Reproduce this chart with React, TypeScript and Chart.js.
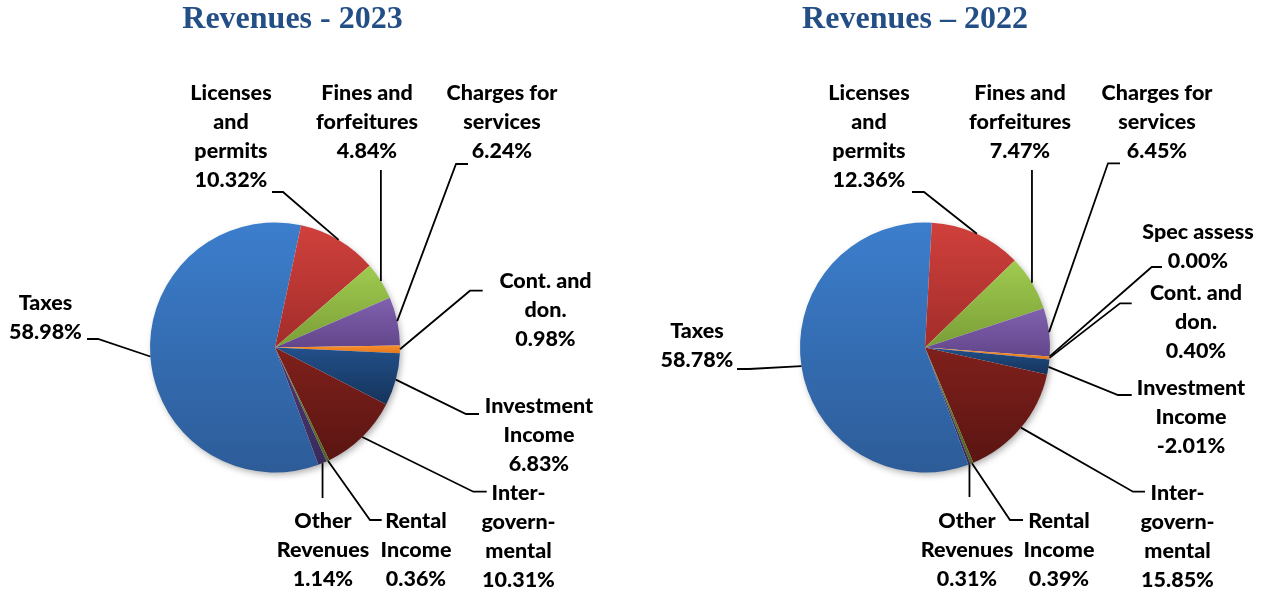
import React, { useEffect, useRef } from 'react';
import { Chart, registerables } from 'chart.js';

Chart.register(...registerables);

// ---------- data ----------
const categories = [
  'Taxes',
  'Licenses and permits',
  'Fines and forfeitures',
  'Charges for services',
  'Spec assess',
  'Cont. and don.',
  'Investment Income',
  'Inter-governmental',
  'Rental Income',
  'Other Revenues',
];
const categoryLines = [
  ['Taxes'],
  ['Licenses', 'and', 'permits'],
  ['Fines and', 'forfeitures'],
  ['Charges for', 'services'],
  ['Spec assess'],
  ['Cont. and', 'don.'],
  ['Investment', 'Income'],
  ['Inter-', 'govern-', 'mental'],
  ['Rental', 'Income'],
  ['Other', 'Revenues'],
];
const values2023 = [58.98, 10.32, 4.84, 6.24, 0, 0.98, 6.83, 10.31, 0.36, 1.14];
const values2022 = [58.78, 12.36, 7.47, 6.45, 0.0, 0.4, -2.01, 15.85, 0.39, 0.31];
const title2023 = 'Revenues - 2023';
const title2022 = 'Revenues \u2013 2022';

// ---------- styles ----------
const ROTATION = 159.7;
const topColors = ['#3C7ECD', '#D0403C', '#A0CB50', '#8061AF', '#4FB9D6', '#F8922C', '#22508A', '#80201C', '#6A8A30', '#4C3876'];
const bottomColors = ['#2D5C98', '#A22D2A', '#7A9E36', '#62468A', '#2E8BA6', '#E5761C', '#15335A', '#5A1512', '#4C6422', '#3A2A5A'];
const LABEL_FONT = '900 21.5px Lato';
const LINE_H = 29;
const TITLE_FONT = 'bold 32px "Liberation Serif"';
const TITLE_COLOR = '#234E86';

type Leader = { kind: 'tick'; y: number; x1: number; x2: number } | { kind: 'vertical'; y: number };
type LabelPos = { dx: number; dy: number; leader: Leader } | null;

const labels2023: LabelPos[] = [
  { dx: -229.5, dy: -37.5, leader: { kind: 'tick', y: -8.5, x1: -188, x2: -177 } },
  { dx: -44, dy: -247.5, leader: { kind: 'tick', y: -155.5, x1: -3, x2: 8 } },
  { dx: 92, dy: -247.5, leader: { kind: 'vertical', y: -177.5 } },
  { dx: 227, dy: -248, leader: { kind: 'tick', y: -183.5, x1: 193, x2: 181 } },
  null,
  { dx: 270.5, dy: -59.5, leader: { kind: 'tick', y: -56.8, x1: 207.7, x2: 195 } },
  { dx: 264, dy: 65.5, leader: { kind: 'tick', y: 66.5, x1: 204, x2: 191 } },
  { dx: 243.5, dy: 152.5, leader: { kind: 'tick', y: 144.2, x1: 211.7, x2: 198.3 } },
  { dx: 141, dy: 180.5, leader: { kind: 'tick', y: 172.5, x1: 106.7, x2: 95 } },
  { dx: 48, dy: 180.5, leader: { kind: 'vertical', y: 150.5 } },
];
const labels2022: LabelPos[] = [
  { dx: -228, dy: -9.5, leader: { kind: 'tick', y: 21.5, x1: -188, x2: -176 } },
  { dx: -56, dy: -247.5, leader: { kind: 'tick', y: -155.5, x1: -13, x2: -1 } },
  { dx: 95, dy: -247.5, leader: { kind: 'vertical', y: -177.5 } },
  { dx: 232, dy: -247.5, leader: { kind: 'tick', y: -184.2, x1: 195, x2: 183 } },
  { dx: 273, dy: -108.5, leader: { kind: 'tick', y: -80.5, x1: 237, x2: 226.7 } },
  { dx: 271, dy: -47.5, leader: { kind: 'tick', y: -44.2, x1: 206.7, x2: 195 } },
  { dx: 266, dy: 47.5, leader: { kind: 'tick', y: 47.5, x1: 206.7, x2: 193 } },
  { dx: 252.5, dy: 152.5, leader: { kind: 'tick', y: 144.2, x1: 220, x2: 208 } },
  { dx: 134, dy: 180.5, leader: { kind: 'tick', y: 172.5, x1: 98, x2: 85 } },
  { dx: 42, dy: 180.5, leader: { kind: 'vertical', y: 149.5 } },
];

function sliceGradient(c: any) {
  const i = c.dataIndex;
  if (i === undefined) return topColors[0];
  const chart = c.chart;
  const area = chart.chartArea;
  if (!area) return topColors[i];
  const data = chart.data.datasets[0].data as number[];
  const total = data.reduce((s, v) => s + Math.abs(v || 0), 0);
  const rot = (ROTATION * Math.PI) / 180 - Math.PI / 2;
  let cum = 0;
  for (let j = 0; j < i; j++) cum += Math.abs(data[j] || 0);
  const a0 = rot + (cum / total) * Math.PI * 2;
  const a1 = a0 + (Math.abs(data[i] || 0) / total) * Math.PI * 2;
  const cx = (area.left + area.right) / 2;
  const cy = (area.top + area.bottom) / 2;
  const r = Math.min(area.right - area.left, area.bottom - area.top) / 2;
  const ys = [cy, cy + r * Math.sin(a0), cy + r * Math.sin(a1)];
  for (let k = -4; k <= 8; k++) {
    const a = Math.PI / 2 + k * Math.PI;
    if (a > a0 && a < a1) ys.push(cy + r * Math.sin(a));
  }
  let y0 = Math.min(...ys);
  let y1 = Math.max(...ys);
  if (y1 - y0 < 1) y1 = y0 + 1;
  const g = chart.ctx.createLinearGradient(0, y0, 0, y1);
  g.addColorStop(0, topColors[i]);
  g.addColorStop(1, bottomColors[i]);
  return g;
}

function makePlugin(title: string, titleX: number, positions: LabelPos[], values: number[]) {
  return {
    id: 'pieDecor',
    beforeDatasetsDraw(chart: any) {
      const arc = chart.getDatasetMeta(0).data[0];
      if (!arc) return;
      const ctx = chart.ctx;
      ctx.save();
      ctx.shadowColor = 'rgba(0,0,0,0.35)';
      ctx.shadowBlur = 7;
      ctx.shadowOffsetX = 2;
      ctx.shadowOffsetY = 3;
      ctx.fillStyle = '#ffffff';
      ctx.beginPath();
      ctx.arc(arc.x, arc.y, arc.outerRadius - 1, 0, Math.PI * 2);
      ctx.fill();
      ctx.restore();
    },
    afterDraw(chart: any) {
      const ctx = chart.ctx;
      const meta = chart.getDatasetMeta(0);
      ctx.save();
      // title
      ctx.font = TITLE_FONT;
      ctx.fillStyle = TITLE_COLOR;
      ctx.textAlign = 'center';
      ctx.textBaseline = 'alphabetic';
      ctx.fillText(title, titleX, 28);
      // leaders & labels
      ctx.strokeStyle = '#000';
      ctx.lineWidth = 1.8;
      ctx.font = LABEL_FONT;
      ctx.fillStyle = '#000';
      positions.forEach((p, i) => {
        if (!p) return;
        const el = meta.data[i];
        if (!el) return;
        const cx = el.x;
        const cy = el.y;
        const mid = (el.startAngle + el.endAngle) / 2;
        const px = cx + Math.cos(mid) * el.outerRadius;
        const py = cy + Math.sin(mid) * el.outerRadius;
        ctx.beginPath();
        if (p.leader.kind === 'tick') {
          ctx.moveTo(cx + p.leader.x1, cy + p.leader.y);
          ctx.lineTo(cx + p.leader.x2, cy + p.leader.y);
          ctx.lineTo(px, py);
        } else {
          ctx.moveTo(px, cy + p.leader.y);
          ctx.lineTo(px, py);
        }
        ctx.stroke();
        const lines = [...categoryLines[i], values[i].toFixed(2) + '%'];
        lines.forEach((t, k) => {
          ctx.fillText(t, cx + p.dx, cy + p.dy + k * LINE_H);
        });
      });
      ctx.restore();
    },
  };
}

type PieProps = {
  values: number[];
  title: string;
  titleX: number;
  positions: LabelPos[];
  left: number;
  padding: { left: number; right: number; top: number; bottom: number };
};

function RevenuePie({ values, title, titleX, positions, left, padding }: PieProps) {
  const ref = useRef<HTMLCanvasElement>(null);
  useEffect(() => {
    if (!ref.current) return;
    const chart = new Chart(ref.current, {
      type: 'pie',
      data: {
        labels: categories,
        datasets: [
          {
            data: values,
            backgroundColor: sliceGradient as any,
            borderWidth: 0,
            hoverBorderWidth: 0,
            offset: 0,
            hoverOffset: 0,
            rotation: ROTATION,
          } as any,
        ],
      },
      options: {
        responsive: false,
        maintainAspectRatio: false,
        animation: false,
        events: [],
        rotation: ROTATION,
        layout: { padding },
        plugins: {
          legend: { display: false },
          tooltip: { enabled: false },
          title: { display: false },
        },
      } as any,
      plugins: [makePlugin(title, titleX, positions, values) as any],
    });
    return () => chart.destroy();
  }, []);
  return (
    <canvas
      ref={ref}
      width={632}
      height={592}
      style={{ position: 'absolute', left, top: 0, width: 632, height: 592 }}
    />
  );
}

export default function App() {
  return (
    <div style={{ position: 'absolute', left: 0, top: 0, width: 1264, height: 592, background: '#fff', overflow: 'hidden' }}>
      <RevenuePie
        values={values2023}
        title={title2023}
        titleX={292.5}
        positions={labels2023}
        left={0}
        padding={{ left: 150, right: 232, top: 222.5, bottom: 119.5 }}
      />
      <RevenuePie
        values={values2022}
        title={title2022}
        titleX={283}
        positions={labels2022}
        left={632}
        padding={{ left: 168, right: 214, top: 222.5, bottom: 119.5 }}
      />
    </div>
  );
}
